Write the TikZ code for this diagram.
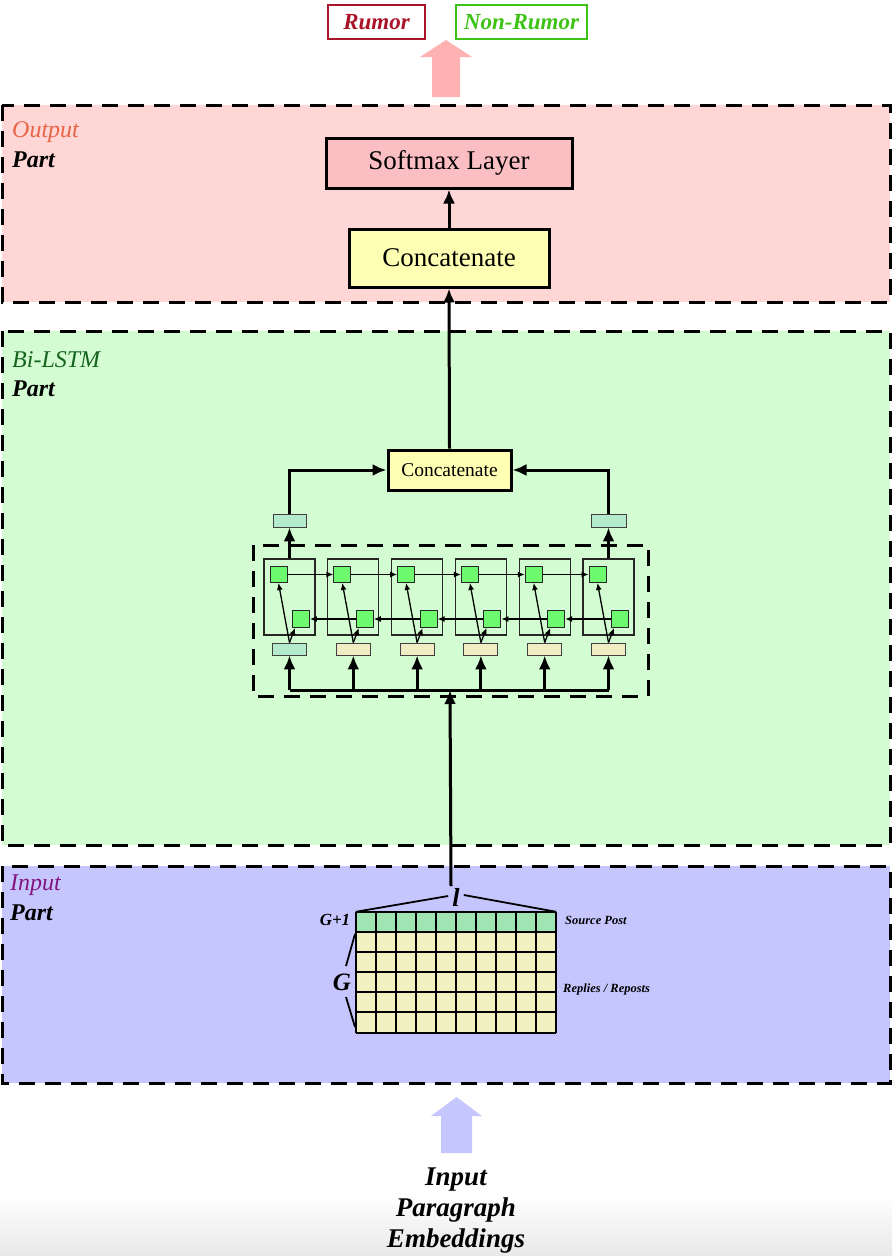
\documentclass[tikz,border=0pt]{standalone}
\usepackage{fontspec}
\setmainfont{Liberation Serif}
\usetikzlibrary{arrows.meta,calc}

\definecolor{outfill}{RGB}{255,214,214}
\definecolor{lstmfill}{RGB}{212,252,210}
\definecolor{infill}{RGB}{198,198,255}
\definecolor{softfill}{RGB}{250,190,195}
\definecolor{catfill}{RGB}{255,255,180}
\definecolor{cellgreen}{RGB}{110,250,110}
\definecolor{mint}{RGB}{180,235,205}
\definecolor{wordbox}{RGB}{240,236,196}
\definecolor{rowgreen}{RGB}{160,228,180}
\definecolor{rowyellow}{RGB}{240,240,192}
\definecolor{rumorred}{RGB}{170,20,40}
\definecolor{nonrumorgreen}{RGB}{60,195,20}
\definecolor{outorange}{RGB}{232,100,70}
\definecolor{lstmgreen}{RGB}{20,100,30}
\definecolor{inpurple}{RGB}{130,20,130}
\definecolor{pinkarrow}{RGB}{255,178,178}
\definecolor{bluearrow}{RGB}{198,198,255}

\tikzset{
  panel/.style={line width=3pt, dash pattern=on 16pt off 10pt},
  bigbox/.style={draw, line width=3pt, inner sep=0pt, font=\fontsize{27}{30}\selectfont},
  thinbox/.style={draw=black!75, line width=0.9pt, inner sep=0pt},
  bigarrow/.style={line width=3pt, -{Latex[length=14pt,width=12pt]}},
  thinarrow/.style={line width=1.3pt, -{Latex[length=7pt,width=6pt]}},
  partlabel/.style={anchor=west, inner sep=0pt, font=\fontsize{24}{26}\selectfont\itshape},
  bi/.style={font=\fontsize{#1}{#1}\selectfont\bfseries\itshape, inner sep=0pt}
}

\begin{document}
\begin{tikzpicture}[x=1pt,y=-1pt]
\useasboundingbox (0,0) rectangle (892,1256);

% faint grey fade along the bottom edge
\shade[top color=white, bottom color=black!9] (0,1195) rectangle (892,1256);

% ---------- the three parts ----------
\draw[panel, fill=outfill] (2,105) rectangle (890,302);
\draw[panel, fill=lstmfill] (2,331) rectangle (890,845);
\draw[panel, fill=infill] (2,866) rectangle (890,1083);

\node[partlabel, text=outorange] (outname) at (12,132) {Output};
\node[partlabel, font=\fontsize{24}{26}\selectfont\bfseries\itshape] (outpart) at (12,160) {Part};
\node[partlabel, text=lstmgreen] (lstmname) at (12,360) {Bi-LSTM};
\node[partlabel, font=\fontsize{24}{26}\selectfont\bfseries\itshape] (lstmpart) at (12,389) {Part};
\node[partlabel, text=inpurple] (inname) at (10,885) {Input};
\node[partlabel, font=\fontsize{24}{26}\selectfont\bfseries\itshape] (inpart) at (10,913) {Part};

% ---------- class labels and output arrow ----------
\node[draw=rumorred, line width=1.5pt, minimum width=97pt, minimum height=34pt,
      bi=23, text=rumorred] (rumor) at (376.5,22) {Rumor};
\node[draw=nonrumorgreen, line width=1.5pt, minimum width=131pt, minimum height=34pt,
      bi=23, text=nonrumorgreen] (nonrumor) at (521.5,22) {Non-Rumor};
\fill[pinkarrow] (432,97) -- (432,57) -- (420,57) -- (446,40) -- (472,57) -- (460,57) -- (460,97) -- cycle;

% ---------- output part ----------
\node[bigbox, fill=softfill, minimum width=246pt, minimum height=50pt] (softmax) at (449,163) {Softmax Layer};
\node[bigbox, fill=catfill, minimum width=200pt, minimum height=58pt] (catbig) at (449,258) {Concatenate};
\draw[bigarrow] (catbig.north) -- (softmax.south);

% ---------- Bi-LSTM part ----------
\node[draw, line width=3pt, inner sep=0pt, fill=catfill, minimum width=123pt, minimum height=40pt,
      font=\fontsize{19.5}{21}\selectfont] (cat) at (449.5,470) {Concatenate};
\draw[bigarrow] (cat.north) -- (catbig.south);

\node[thinbox, fill=mint, minimum width=33pt, minimum height=13pt] (hL) at (289.5,520.5) {};
\node[thinbox, fill=mint, minimum width=35pt, minimum height=13pt] (hR) at (608.5,520.5) {};
\draw[bigarrow] (hL.north) |- (cat.west);
\draw[bigarrow] (hR.north) |- (cat.east);

\draw[panel] (253,545) rectangle (648,696);

\foreach \i in {0,...,5} {
  \pgfmathsetmacro{\cx}{289.5+63.8*\i}
  \node[thinbox, draw=black!85, line width=1.1pt, minimum width=51pt, minimum height=76pt] (cell\i) at (\cx,597) {};
  \node[thinbox, draw=black!85, fill=cellgreen, minimum width=17pt, minimum height=16pt] (up\i) at (\cx-11,574.5) {};
  \node[thinbox, draw=black!85, fill=cellgreen, minimum width=17pt, minimum height=17pt] (lo\i) at (\cx+11.5,619) {};
  \node[thinbox, fill=wordbox, minimum width=34pt, minimum height=12pt] (in\i) at (\cx,649) {};
  \draw[thinarrow] (in\i.north) -- (up\i.south);
  \draw[thinarrow] (in\i.north) -- ($(lo\i.south west)+(3,0)$);
}
% the source-post position is tinted like the source row
\node[thinbox, fill=mint, minimum width=34pt, minimum height=12pt] (in0) at (289.5,649) {};

\foreach \i/\j in {0/1,1/2,2/3,3/4,4/5} {
  \draw[thinarrow] (up\i.east) -- (up\j.west);
  \draw[thinarrow] (lo\j.west) -- (lo\i.east);
}
\draw[bigarrow] (cell0.north) -- (hL.south);
\draw[bigarrow] (cell5.north) -- (hR.south);

% bus feeding every time step
\coordinate (bus) at (450,690);
\draw[line width=3pt] (in0.south |- bus) -- (in5.south |- bus);
\foreach \i in {0,...,5} {
  \draw[bigarrow] (in\i.south |- bus) -- (in\i.south);
}

% ---------- input part ----------
\node[inner sep=0pt, minimum width=200pt, minimum height=121pt] (mat) at (456,972.5) {};
\fill[rowgreen] (356,912) rectangle (556,932);
\fill[rowyellow] (356,932) rectangle (556,1033);
\foreach \k in {0,...,10} {
  \draw[line width=1.4pt] (356+20*\k,912) -- (356+20*\k,1033);
}
\foreach \y in {912,932,952,972,992,1012,1033} {
  \draw[line width=1.4pt] (356,\y) -- (556,\y);
}

\node[bi=26] (lsym) at (456,897) {l};
\coordinate (ltop) at (451,886);
\draw[bigarrow] (ltop) -- (bus);
\draw[line width=1.8pt] (mat.north west) -- ($(lsym.west)+(-4,-1)$);
\draw[line width=1.8pt] ($(lsym.east)+(4,-2)$) -- (mat.north east);

\node[bi=17] (gone) at (335,920) {G+1};
\node[bi=25] (gsym) at (342,982) {G};
\draw[line width=1.8pt] (355,934) -- (346,966);
\draw[line width=1.8pt] (346,997) -- (355,1027);

\node[bi=12.5, anchor=west] (srclbl) at (565,920) {Source Post};
\node[bi=12.5, anchor=west] (replbl) at (563,989) {Replies / Reposts};

% ---------- incoming embeddings ----------
\fill[bluearrow] (441,1153) -- (441,1116) -- (431,1116) -- (456.5,1097) -- (482,1116) -- (472,1116) -- (472,1153) -- cycle;
\node[align=center, inner sep=0pt, font=\fontsize{27}{31}\selectfont\bfseries\itshape] (emb) at (456,1211) {Input\\Paragraph\\Embeddings};

\end{tikzpicture}
\end{document}
